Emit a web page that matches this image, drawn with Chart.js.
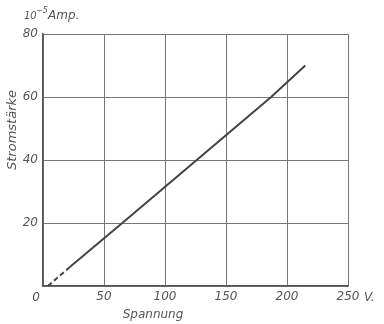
<!DOCTYPE html>
<html>
<head>
<meta charset="utf-8">
<script src="https://cdn.jsdelivr.net/npm/chart.js@4.4.0/dist/chart.umd.min.js"></script>
<style>
  html, body { margin: 0; padding: 0; background: #fff; }
  canvas { display: block; }
</style>
</head>
<body>
<canvas id="myChart" width="384" height="324"></canvas>
<script>
// data
const voltage = [4, 22, 65, 187, 215];   // V
const current = [0, 6, 20, 60, 70];      // 10^-5 A
const xTicks = [0, 50, 100, 150, 200, 250];
const yTicks = [0, 20, 40, 60, 80];

const ink = '#555';
const font = 'italic 12px "DejaVu Sans", sans-serif';

// extra labels around the plot
const labels = {
    id: 'labels',
    afterDraw(chart) {
        const c = chart.ctx;
        const a = chart.chartArea;
        c.save();
        c.fillStyle = ink;
        c.textBaseline = 'alphabetic';
        c.textAlign = 'left';
        // unit on top
        c.font = 'italic 10px "DejaVu Sans", sans-serif';
        c.fillText('10', 24, 19);
        c.font = 'italic 8px "DejaVu Sans", sans-serif';
        c.fillText('\u22125', 36, 13);
        c.font = font;
        c.fillText('Amp.', 48, 19);
        // zero at the corner
        c.textAlign = 'center';
        c.fillText('0', 36, 301);
        // V. after 250
        c.textAlign = 'left';
        c.fillText('V.', a.right + 16, 301);
        // x title
        c.textAlign = 'center';
        c.fillText('Spannung', 153, 318);
        // y title
        c.translate(13, 130);
        c.rotate(-Math.PI / 2);
        c.font = 'italic 13px "DejaVu Sans", sans-serif';
        c.textBaseline = 'middle';
        c.fillText('Stromst\u00e4rke', 0, 0);
        c.restore();
    }
};

const ctx = document.getElementById('myChart').getContext('2d');
const myChart = new Chart(ctx, {
    type: 'line',
    data: {
        datasets: [{
            data: voltage.map((v, i) => ({ x: v, y: current[i] })),
            borderColor: '#444',
            borderWidth: 2,
            pointRadius: 0,
            tension: 0,
            segment: {
                borderDash: c => c.p0DataIndex === 0 ? [5, 3] : undefined
            }
        }]
    },
    options: {
        responsive: false,
        animation: false,
        devicePixelRatio: 1,
        layout: { padding: { top: 34, right: 36, left: 0, bottom: 0 } },
        plugins: {
            legend: { display: false },
            tooltip: { enabled: false }
        },
        scales: {
            x: {
                type: 'linear',
                min: xTicks[0],
                max: xTicks[xTicks.length - 1],
                afterBuildTicks: s => { s.ticks = xTicks.map(v => ({ value: v })); },
                afterFit: s => { s.height = 38; },
                grid: { color: '#777', lineWidth: 1, drawTicks: false },
                border: { color: '#555', width: 1.5 },
                ticks: {
                    color: ink,
                    font: { family: '"DejaVu Sans", sans-serif', size: 12, style: 'italic' },
                    padding: 4,
                    maxRotation: 0,
                    callback: v => v === 0 ? '' : v
                }
            },
            y: {
                min: yTicks[0],
                max: yTicks[yTicks.length - 1],
                afterBuildTicks: s => { s.ticks = yTicks.map(v => ({ value: v })); },
                afterFit: s => { s.width = 43; },
                grid: { color: '#777', lineWidth: 1, drawTicks: false },
                border: { color: '#555', width: 1.5 },
                ticks: {
                    color: ink,
                    font: { family: '"DejaVu Sans", sans-serif', size: 12, style: 'italic' },
                    padding: 5,
                    callback: v => v === 0 ? '' : v
                }
            }
        }
    },
    plugins: [labels]
});
</script>
</body>
</html>
